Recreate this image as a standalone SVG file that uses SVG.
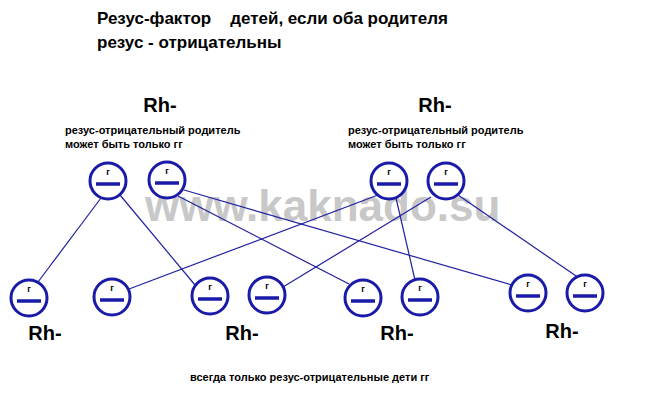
<svg xmlns="http://www.w3.org/2000/svg" width="650" height="413" viewBox="0 0 650 413">
<style>
text{font-family:"Liberation Sans",Arial,sans-serif;font-weight:bold;fill:#000}
.c circle{fill:#fff;stroke:#1a1aa8;stroke-width:3}
.c line{stroke:#1a1aa8;stroke-width:3.5}
.c text{font-size:9px;text-anchor:middle}
.t{font-size:17px}
.rh{font-size:20px;text-anchor:middle}
.s{font-size:11px}
#conn line{stroke:#2020a0;stroke-width:1.2}
</style>
<defs>
<g id="g" class="c"><circle r="18"/><line x1="-12" y1="3" x2="12" y2="3"/><text y="-6">г</text></g>
</defs>
<rect width="650" height="413" fill="#fff"/>
<text class="t" x="97" y="24" xml:space="preserve">Резус-фактор    детей, если оба родителя</text>
<text class="t" x="97" y="48">резус - отрицательны</text>
<text x="145" y="221" style="font-size:44px;fill:#c8c8c8">www.kaknado.su</text>
<g id="conn">
<line x1="101" y1="198" x2="38" y2="282"/>
<line x1="120" y1="195" x2="195" y2="285"/>
<line x1="178" y1="196" x2="349" y2="284"/>
<line x1="184" y1="190" x2="512" y2="285"/>
<line x1="378" y1="195" x2="129" y2="289"/>
<line x1="396" y1="198" x2="415" y2="280"/>
<line x1="431" y1="197" x2="283" y2="287"/>
<line x1="458" y1="195" x2="579" y2="278"/>
</g>
<g id="p1"><text class="rh" x="160" y="112">Rh-</text>
<text class="s" x="65" y="134">резус-отрицательный родитель</text><text class="s" x="65" y="148">может быть только гг</text>
<use href="#g" x="108" y="181"/><use href="#g" x="167" y="180"/></g>
<g id="p2"><text class="rh" x="435" y="112">Rh-</text>
<text class="s" x="348" y="134">резус-отрицательный родитель</text><text class="s" x="348" y="148">может быть только гг</text>
<use href="#g" x="389" y="181"/><use href="#g" x="446" y="181"/></g>
<g id="k1"><use href="#g" x="29" y="298"/><use href="#g" x="112" y="297"/><text class="rh" x="45" y="340">Rh-</text></g>
<g id="k2"><use href="#g" x="210" y="296"/><use href="#g" x="267" y="295"/><text class="rh" x="242" y="340">Rh-</text></g>
<g id="k3"><use href="#g" x="363" y="298"/><use href="#g" x="420" y="297"/><text class="rh" x="397" y="340">Rh-</text></g>
<g id="k4"><use href="#g" x="528" y="293"/><use href="#g" x="585" y="293"/><text class="rh" x="562" y="338">Rh-</text></g>
<text class="s" x="190" y="381">всегда только резус-отрицательные дети гг</text>
</svg>
